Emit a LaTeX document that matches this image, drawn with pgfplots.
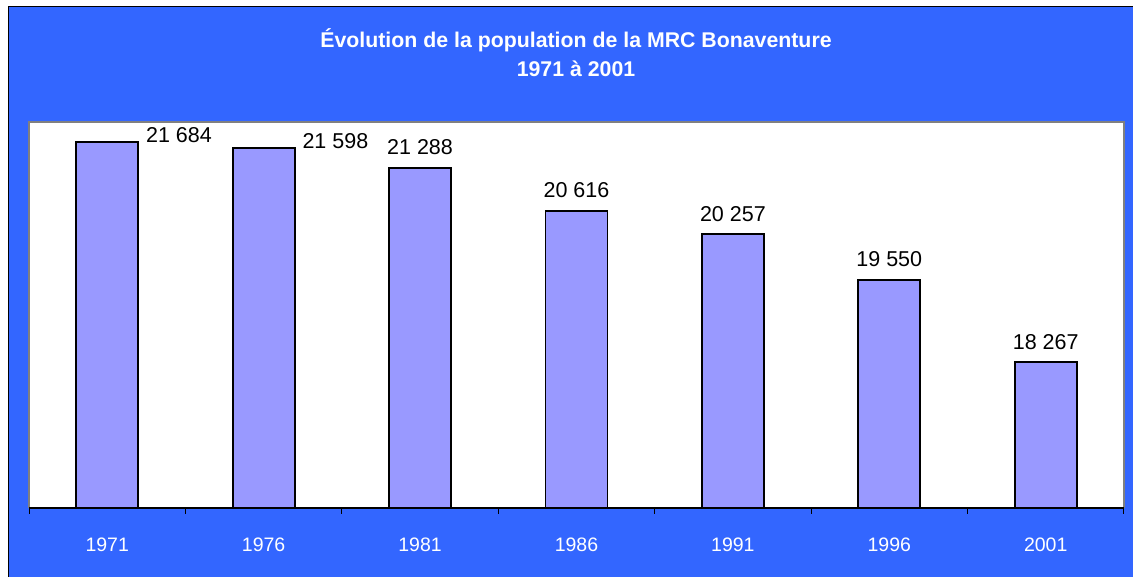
\documentclass[border=0pt]{standalone}
\usepackage{fontspec}
\setmainfont{Liberation Sans}
\usepackage{pgfplots}
\pgfplotsset{compat=1.18}
\usepackage{pgfplotstable}
\definecolor{bgblue}{HTML}{3366FF}
\definecolor{barcol}{HTML}{9999FF}
\definecolor{frame}{HTML}{808080}
\pgfplotstableread{
x y
0 21684
1 21598
}\dataA
\pgfplotstableread{
x y
2 21288
3 20616
4 20257
5 19550
6 18267
}\dataB
\begin{document}
\begin{tikzpicture}[x=1pt,y=1pt]
\useasboundingbox (0,0) rectangle (1133,577);
\fill[white] (0,0) rectangle (1133,577);
\fill[bgblue] (8.5,0) rectangle (1133,570.5);
\draw[black,line width=1.2pt] (8.5,0) -- (8.5,570.5) -- (1133,570.5);
\node[anchor=base,text=white,font=\bfseries\fontsize{21.3}{25}\selectfont] at (576,529) {Évolution de la population de la MRC Bonaventure};
\node[anchor=base,text=white,font=\bfseries\fontsize{21.3}{25}\selectfont] at (576,500) {1971 à 2001};
\begin{axis}[at={(29pt,69pt)}, anchor=south west, scale only axis,
  width=1095pt, height=386pt,
  xmin=-0.5, xmax=6.5, ymin=16000, ymax=22000,
  ytick=\empty,
  xtick={0,...,6}, xticklabels={1971,1976,1981,1986,1991,1996,2001},
  minor xtick={-0.5,0.5,...,6.5},
  tick pos=left,
  tick align=outside, major tick length=0pt, minor tick length=6pt,
  minor x tick style={black, line width=1pt},
  axis line style={draw=none},
  axis background/.style={fill=white},
  xticklabel style={text=white, font=\fontsize{19.5}{23}\selectfont, anchor=base, yshift=-44pt},
  ybar, bar width=62pt, bar shift=0pt,
  clip=false,
  nodes near coords={\pgfmathprintnumber[assume math mode=true,1000 sep={\ }]{\pgfplotspointmeta}},
  every node near coord/.append style={text=black, font=\fontsize{21.5}{25}\selectfont, inner sep=0pt},
]
\addplot[fill=barcol, draw=black, line width=1.8pt,
  nodes near coords style={anchor=west, xshift=38pt, yshift=7pt}] table[x=x,y=y] {\dataA};
\addplot[fill=barcol, draw=black, line width=1.8pt,
  nodes near coords style={anchor=south, yshift=12pt}] table[x=x,y=y] {\dataB};
\draw[frame, line width=1.6pt] (rel axis cs:0,0) -- (rel axis cs:0,1) -- (rel axis cs:1,1) -- (rel axis cs:1,0);
\draw[black, line width=1.4pt] (rel axis cs:0,0) -- (rel axis cs:1,0);
\end{axis}
\end{tikzpicture}
\end{document}
